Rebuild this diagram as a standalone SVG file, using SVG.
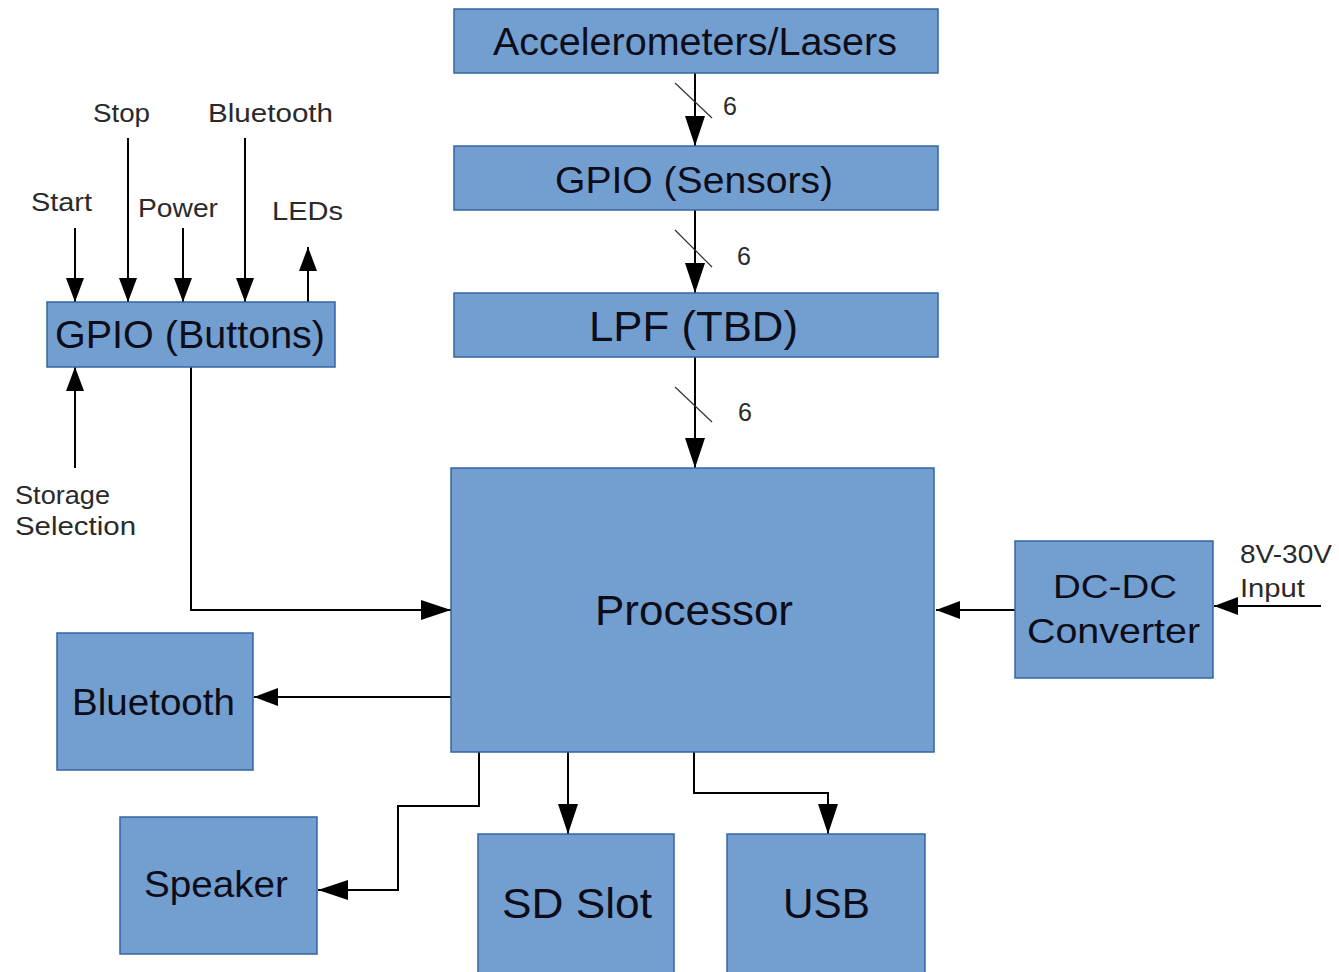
<svg xmlns="http://www.w3.org/2000/svg" width="1339" height="972" viewBox="0 0 1339 972">
<style>
.box{fill:#729fcf;stroke:#3465a4;stroke-width:1.5}
.t{font-family:"Liberation Sans",Arial,sans-serif;fill:#0d0d1a}
.l{font-family:"Liberation Sans",Arial,sans-serif;fill:#2a2a2a;font-size:25px}
.c{fill:none;stroke:#000;stroke-width:2}
.s{stroke:#333;stroke-width:1.2}
</style>
<defs>
<marker id="ah" viewBox="0 0 30 20" refX="30" refY="10" markerWidth="30" markerHeight="20" markerUnits="userSpaceOnUse" orient="auto">
<path d="M0,0 L30,10 L0,20 z" fill="#000"/>
</marker>
<marker id="ahs" viewBox="0 0 24 18" refX="24" refY="9" markerWidth="24" markerHeight="18" markerUnits="userSpaceOnUse" orient="auto">
<path d="M0,0 L24,9 L0,18 z" fill="#000"/>
</marker>
</defs>
<rect width="1339" height="972" fill="#fff"/>

<g id="connectors">
<line class="c" x1="695" y1="73" x2="695" y2="146" marker-end="url(#ah)"/>
<line class="c" x1="695" y1="210" x2="695" y2="293" marker-end="url(#ah)"/>
<line class="c" x1="695" y1="357" x2="695" y2="468" marker-end="url(#ah)"/>
<line class="s" x1="675" y1="83" x2="712" y2="118"/>
<line class="s" x1="675" y1="230" x2="712" y2="267"/>
<line class="s" x1="675" y1="387" x2="712" y2="422"/>
<text class="l" x="723" y="115">6</text>
<text class="l" x="737" y="265">6</text>
<text class="l" x="738" y="421">6</text>

<line class="c" x1="75" y1="228" x2="75" y2="302" marker-end="url(#ahs)"/>
<line class="c" x1="128" y1="138" x2="128" y2="302" marker-end="url(#ahs)"/>
<line class="c" x1="183" y1="228" x2="183" y2="302" marker-end="url(#ahs)"/>
<line class="c" x1="245" y1="138" x2="245" y2="302" marker-end="url(#ahs)"/>
<line class="c" x1="308" y1="302" x2="308" y2="247" marker-end="url(#ahs)"/>
<line class="c" x1="75" y1="468" x2="75" y2="367" marker-end="url(#ahs)"/>

<polyline class="c" points="191,367 191,610 451,610" marker-end="url(#ah)"/>
<line class="c" x1="451" y1="697" x2="254" y2="697" marker-end="url(#ahs)"/>
<line class="c" x1="1015" y1="610" x2="936" y2="610" marker-end="url(#ahs)"/>
<line class="c" x1="1321" y1="606" x2="1214" y2="606" marker-end="url(#ahs)"/>
<polyline class="c" points="479,752 479,806 398,806 398,890 318,890" marker-end="url(#ah)"/>
<line class="c" x1="568" y1="752" x2="568" y2="834" marker-end="url(#ah)"/>
<polyline class="c" points="694,752 694,793 828,793 828,834" marker-end="url(#ah)"/>

<text class="l" x="93" y="122" textLength="57" lengthAdjust="spacingAndGlyphs">Stop</text>
<text class="l" x="208" y="122" textLength="125" lengthAdjust="spacingAndGlyphs">Bluetooth</text>
<text class="l" x="31" y="211" textLength="61" lengthAdjust="spacingAndGlyphs">Start</text>
<text class="l" x="138" y="217" textLength="80" lengthAdjust="spacingAndGlyphs">Power</text>
<text class="l" x="272" y="220" textLength="71" lengthAdjust="spacingAndGlyphs">LEDs</text>
<text class="l" x="15" y="504" textLength="95" lengthAdjust="spacingAndGlyphs">Storage</text>
<text class="l" x="15" y="535" textLength="121" lengthAdjust="spacingAndGlyphs">Selection</text>
<text class="l" x="1240" y="563" font-size="27" textLength="92" lengthAdjust="spacingAndGlyphs">8V-30V</text>
<text class="l" x="1240" y="597" font-size="27" textLength="65" lengthAdjust="spacingAndGlyphs">Input</text>
</g>

<g id="accel"><rect class="box" x="454" y="9" width="484" height="64"/>
<text class="t" x="493" y="55" font-size="38" textLength="404" lengthAdjust="spacingAndGlyphs">Accelerometers/Lasers</text></g>
<g id="gpio-sensors"><rect class="box" x="454" y="146" width="484" height="64"/>
<text class="t" x="555" y="193" font-size="37" textLength="278" lengthAdjust="spacingAndGlyphs">GPIO (Sensors)</text></g>
<g id="lpf"><rect class="box" x="454" y="293" width="484" height="64"/>
<text class="t" x="589" y="341" font-size="42" textLength="209" lengthAdjust="spacingAndGlyphs">LPF (TBD)</text></g>
<g id="processor"><rect class="box" x="451" y="468" width="483" height="284"/>
<text class="t" x="595" y="625" font-size="42" textLength="198" lengthAdjust="spacingAndGlyphs">Processor</text></g>
<g id="gpio-buttons"><rect class="box" x="47" y="302" width="288" height="65"/>
<text class="t" x="55" y="348" font-size="38" textLength="270" lengthAdjust="spacingAndGlyphs">GPIO (Buttons)</text></g>
<g id="dcdc"><rect class="box" x="1015" y="541" width="198" height="137"/>
<text class="t" x="1053" y="598" font-size="34" textLength="124" lengthAdjust="spacingAndGlyphs">DC-DC</text>
<text class="t" x="1027" y="643" font-size="35" textLength="173" lengthAdjust="spacingAndGlyphs">Converter</text></g>
<g id="bluetooth"><rect class="box" x="57" y="633" width="196" height="137"/>
<text class="t" x="72" y="715" font-size="37" textLength="163" lengthAdjust="spacingAndGlyphs">Bluetooth</text></g>
<g id="speaker"><rect class="box" x="120" y="817" width="197" height="137"/>
<text class="t" x="144" y="897" font-size="36" textLength="144" lengthAdjust="spacingAndGlyphs">Speaker</text></g>
<g id="sdslot"><rect class="box" x="478" y="834" width="196" height="150"/>
<text class="t" x="502" y="918" font-size="43" textLength="150" lengthAdjust="spacingAndGlyphs">SD Slot</text></g>
<g id="usb"><rect class="box" x="727" y="834" width="198" height="150"/>
<text class="t" x="783" y="918" font-size="43" textLength="87" lengthAdjust="spacingAndGlyphs">USB</text></g>
</svg>
